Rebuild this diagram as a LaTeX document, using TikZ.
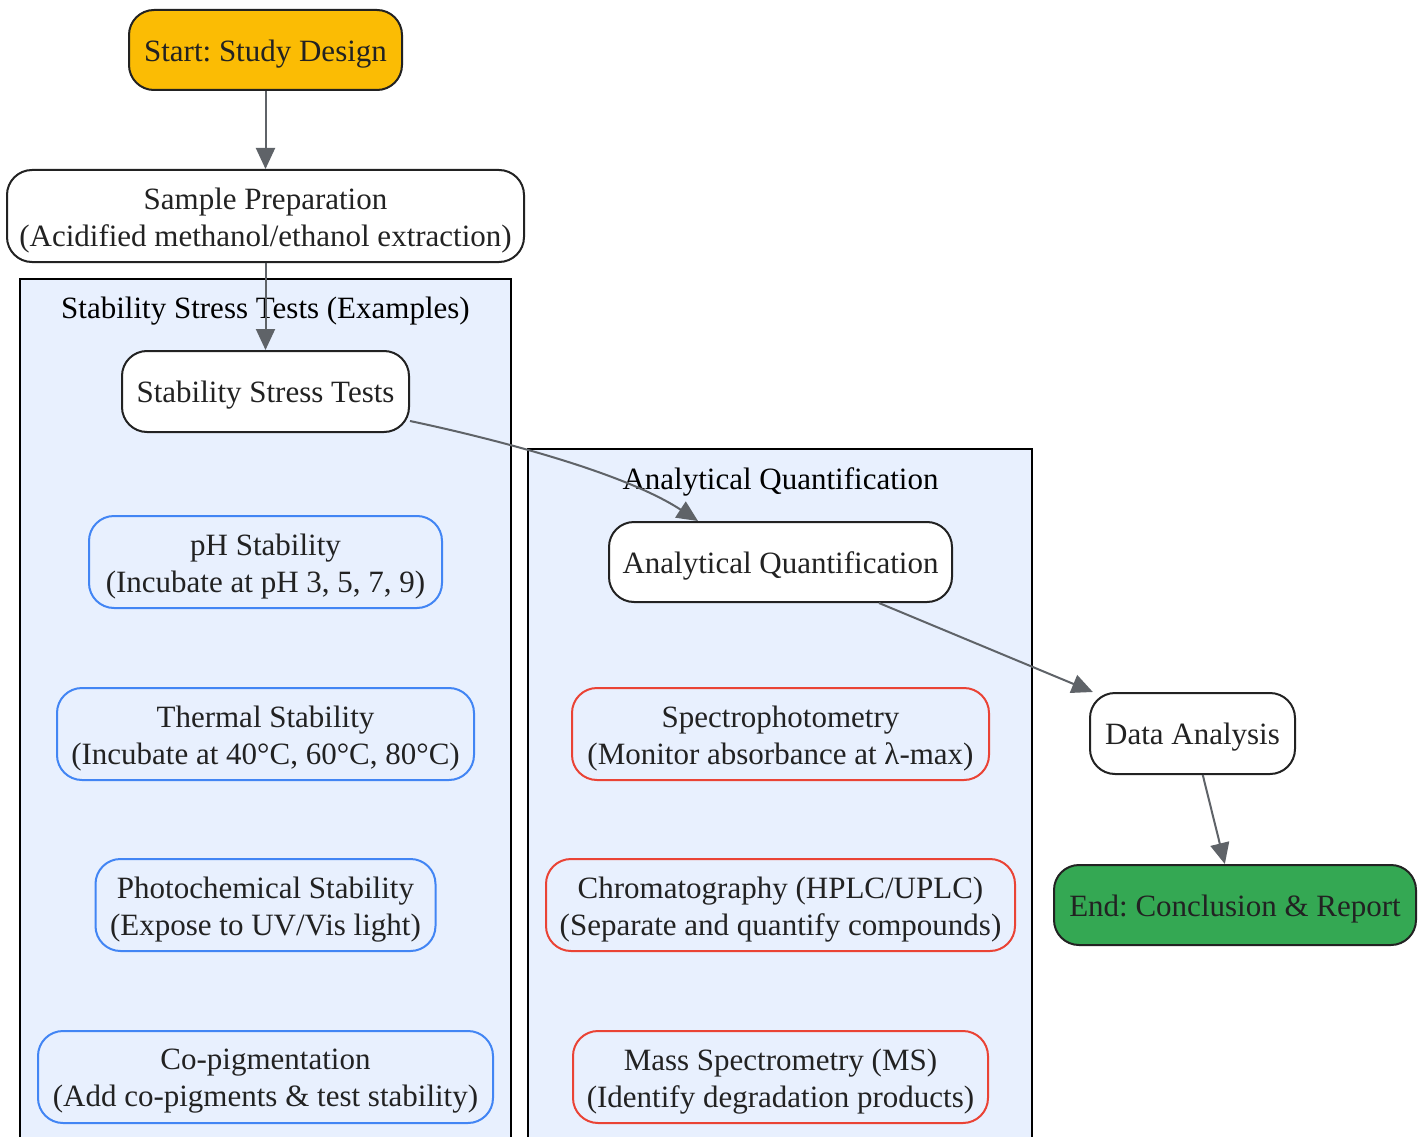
\documentclass[tikz,border=0pt]{standalone}
\usepackage{fontspec}
\setmainfont{Liberation Serif}
\usetikzlibrary{arrows.meta,calc}
\frenchspacing
\definecolor{txt}{HTML}{222222}
\definecolor{edgec}{HTML}{5F6368}
\definecolor{clfill}{HTML}{E8F0FE}
\definecolor{yel}{HTML}{FBBC04}
\definecolor{grn}{HTML}{34A853}
\definecolor{blu}{HTML}{4285F4}
\definecolor{rd}{HTML}{EA4335}
\tikzset{
  box/.style={draw=txt, line width=2pt, rounded corners=25pt, inner sep=0pt, fill=white},
  bluebox/.style={box, draw=blu, fill=clfill},
  redbox/.style={box, draw=rd, fill=clfill},
  btext/.style={align=center, text=txt, inner sep=0pt, font=\fontsize{31}{37}\selectfont\frenchspacing},
  cluster/.style={draw=black, line width=2pt, fill=clfill},
  clabel/.style={text=black, font=\fontsize{31}{37}\selectfont\frenchspacing, inner sep=0pt},
  conn/.style={draw=edgec, line width=2pt, -{Triangle[length=21pt,width=19pt]}},
}
\begin{document}
\begin{tikzpicture}[x=1pt,y=-1pt]
\clip (0,0) rectangle (1425,1137);
\fill[white] (0,0) rectangle (1425,1137);
% clusters
\draw[cluster] (20,279) rectangle (511,1160);
\draw[cluster] (528,449) rectangle (1032,1160);
\node[clabel] (cl1) at (265.5,311) {Stability Stress Tests (Examples)};
\node[clabel] (cl2) at (780.5,482) {Analytical Quantification};
% nodes
\node[box, fill=yel, minimum width=273pt, minimum height=80pt] (start) at (265.5,50) {};
\node[box, minimum width=517pt, minimum height=92pt] (sample) at (265.5,216) {};
\node[box, minimum width=287pt, minimum height=81pt] (sst) at (265.5,391.5) {};
\node[bluebox, minimum width=353pt, minimum height=92pt] (ph) at (265.5,562) {};
\node[bluebox, minimum width=417pt, minimum height=92pt] (therm) at (265.5,734) {};
\node[bluebox, minimum width=340pt, minimum height=92pt] (photo) at (265.5,905) {};
\node[bluebox, minimum width=455pt, minimum height=92pt] (copig) at (265.5,1077) {};
\node[box, minimum width=343pt, minimum height=80pt] (aq) at (780.5,562) {};
\node[redbox, minimum width=417pt, minimum height=92pt] (spec) at (780.5,734) {};
\node[redbox, minimum width=469pt, minimum height=92pt] (chrom) at (780.5,905) {};
\node[redbox, minimum width=415pt, minimum height=92pt] (ms) at (780.5,1077) {};
\node[box, minimum width=205pt, minimum height=81pt] (da) at (1192.5,733.5) {};
\node[box, fill=grn, minimum width=362pt, minimum height=80pt] (end) at (1235,905) {};
% texts
\node[btext] (start-t) at ([yshift=-4pt]start.center) {Start: Study Design};
\node[btext] (sample-t) at ([yshift=-4.5pt]sample.center) {Sample Preparation\\(Acidified methanol/ethanol extraction)};
\node[btext] (sst-t) at ([yshift=-4pt]sst.center) {Stability Stress Tests};
\node[btext] (ph-t) at ([yshift=-4.5pt]ph.center) {pH Stability\\(Incubate at pH 3, 5, 7, 9)};
\node[btext] (therm-t) at ([yshift=-4.5pt]therm.center) {Thermal Stability\\(Incubate at 40°C, 60°C, 80°C)};
\node[btext] (photo-t) at ([yshift=-4.5pt]photo.center) {Photochemical Stability\\(Expose to UV/Vis light)};
\node[btext] (copig-t) at ([yshift=-4.5pt]copig.center) {Co-pigmentation\\(Add co-pigments \& test stability)};
\node[btext] (aq-t) at ([yshift=-4pt]aq.center) {Analytical Quantification};
\node[btext] (spec-t) at ([yshift=-4.5pt]spec.center) {Spectrophotometry\\(Monitor absorbance at λ-max)};
\node[btext] (chrom-t) at ([yshift=-4.5pt]chrom.center) {Chromatography (HPLC/UPLC)\\(Separate and quantify compounds)};
\node[btext] (ms-t) at ([yshift=-4.5pt]ms.center) {Mass Spectrometry (MS)\\(Identify degradation products)};
\node[btext] (da-t) at ([yshift=-4pt]da.center) {Data Analysis};
\node[btext] (end-t) at ([yshift=-4pt]end.center) {End: Conclusion \& Report};
% edges
\draw[conn] (start) -- (sample);
\draw[conn] (sample) -- (sst);
\draw[conn] ($(sst.east)+(0,29.5)$) .. controls +(71,15) and +(-78,-51) .. ($(aq.north)+(-82.5,0)$);
\draw[conn] (aq) -- (da);
\draw[conn] (da) -- (end);
\end{tikzpicture}
\end{document}
